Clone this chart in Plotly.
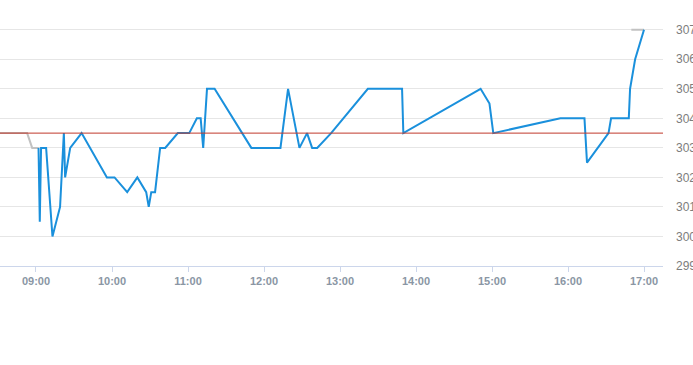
import plotly.graph_objects as go

DAY = "2024-01-02 "

pre_times = ["08:31", "08:53", "08:57", "09:02"]
pre_values = [303.5, 303.5, 303.0, 303.0]

post_times = ["16:50", "17:00"]
post_values = [307.0, 307.0]

times = ["09:02", "09:03", "09:04", "09:08", "09:13", "09:19", "09:22", "09:23",
         "09:27", "09:36", "09:56", "10:02", "10:12", "10:20", "10:27", "10:29",
         "10:31", "10:34", "10:38", "10:42", "10:52", "11:01", "11:07", "11:10",
         "11:12", "11:15", "11:21", "11:50", "12:13", "12:19", "12:28", "12:34",
         "12:38", "12:42", "12:53", "13:22", "13:49", "13:50", "14:51", "14:58",
         "15:01", "15:54", "16:13", "16:15", "16:32", "16:34", "16:48", "16:49",
         "16:53", "17:00"]
values = [303.0, 300.5, 303.0, 303.0, 300.0, 301.0, 303.5, 302.0,
          303.0, 303.5, 302.0, 302.0, 301.5, 302.0, 301.5, 301.0,
          301.5, 301.5, 303.0, 303.0, 303.5, 303.5, 304.0, 304.0,
          303.0, 305.0, 305.0, 303.0, 303.0, 305.0, 303.0, 303.5,
          303.0, 303.0, 303.5, 305.0, 305.0, 303.5, 305.0, 304.5,
          303.5, 304.0, 304.0, 302.5, 303.5, 304.0, 304.0, 305.0,
          306.0, 307.0]

prev_close = 303.5
y_ticks = [299, 300, 301, 302, 303, 304, 305, 306, 307]

fig = go.Figure()
fig.add_trace(go.Scatter(x=[DAY + t for t in pre_times], y=pre_values, mode="lines",
                         line=dict(color="#c2c2c2", width=2), hoverinfo="skip"))
fig.add_trace(go.Scatter(x=[DAY + t for t in post_times], y=post_values, mode="lines",
                         line=dict(color="#c2c2c2", width=2), hoverinfo="skip"))
fig.add_hline(y=prev_close, line=dict(color="#c0392b", width=1))
fig.add_trace(go.Scatter(x=[DAY + t for t in times], y=values, mode="lines",
                         line=dict(color="#1a90dc", width=2)))

fig.update_layout(
    width=693, height=365,
    margin=dict(l=0, r=30, t=15, b=99, autoexpand=False),
    paper_bgcolor="white", plot_bgcolor="white",
    showlegend=False,
    xaxis=dict(
        type="date", automargin=False,
        range=[DAY + "08:31:35", DAY + "17:15:00"],
        tick0=DAY + "09:00", dtick=3600000, tickformat="%H:%M",
        showgrid=False, zeroline=False,
        showline=True, linecolor="#ccd6eb", linewidth=1,
        ticks="outside", ticklen=5, tickcolor="#ccd6eb",
        tickfont=dict(family="Liberation Sans, Arial", size=11, color="#8a96a4", weight="bold"),
    ),
    yaxis=dict(
        side="right", automargin=False,
        range=[299, 307.5],
        tickvals=y_ticks,
        showgrid=True, gridcolor="#e6e6e6", gridwidth=1,
        zeroline=False, showline=False,
        ticklabelstandoff=12,
        tickfont=dict(family="Liberation Sans, Arial", size=12, color="#7d7d7d"),
    ),
)

fig.write_html("out.html")
